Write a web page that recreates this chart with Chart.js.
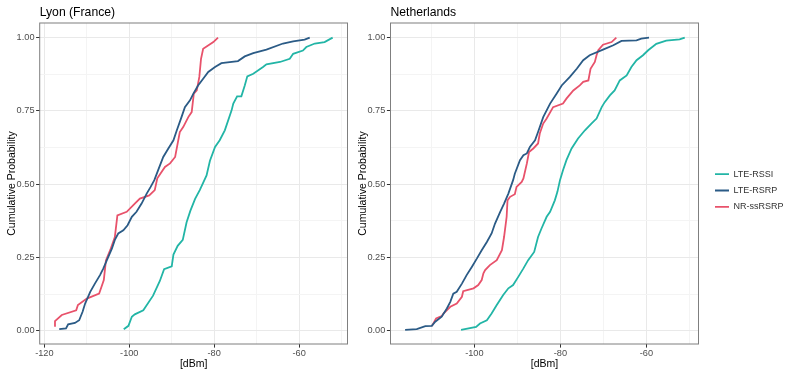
<!DOCTYPE html>
<html>
<head>
<meta charset="utf-8">
<script src="https://cdn.jsdelivr.net/npm/chart.js@4.4.1/dist/chart.umd.min.js"></script>
<style>
  html, body { margin: 0; padding: 0; background: #fff; }
  #wrap { position: relative; width: 787px; height: 376px; }
  .panel { position: absolute; top: 0; height: 376px; }
  #lyonBox { left: 0; width: 350px; }
  #nlBox { left: 350px; width: 437px; }
</style>
</head>
<body>
<div id="wrap">
  <div class="panel" id="lyonBox"><canvas id="lyonChart"></canvas></div>
  <div class="panel" id="nlBox"><canvas id="nlChart"></canvas></div>
</div>
<script>
// series names and colours
const SERIES = ['LTE-RSSI', 'LTE-RSRP', 'NR-ssRSRP'];
const COLORS = ['#22b5a6', '#2b5b86', '#e8526b'];

// Lyon (France) - values in dBm and cumulative probability
const lyonRssiDbm = [-101.3, -100.2, -99.4, -98.7, -96.7, -94.4, -92.8, -91.8, -90.0, -89.6, -88.6, -87.4, -86.5, -85.6, -84.5, -83.4, -81.8, -81.0, -79.8, -78.7, -77.5, -75.9, -75.5, -74.6, -73.6, -72.8, -72.2, -70.8, -68.5, -67.7, -64.5, -62.2, -61.4, -59.1, -58.3, -56.3, -54.0, -52.1];
const lyonRssiProb = [0.005, 0.017, 0.048, 0.056, 0.07, 0.12, 0.17, 0.21, 0.22, 0.26, 0.29, 0.31, 0.37, 0.41, 0.45, 0.48, 0.53, 0.58, 0.627, 0.65, 0.684, 0.752, 0.775, 0.80, 0.80, 0.837, 0.868, 0.877, 0.90, 0.909, 0.917, 0.928, 0.945, 0.956, 0.968, 0.98, 0.985, 1.0];

const lyonRsrpDbm = [-116.5, -114.9, -114.4, -112.8, -111.8, -111.0, -110.4, -109.2, -108.1, -106.9, -106.1, -105.3, -104.1, -103.4, -102.6, -101.4, -100.4, -99.4, -98.3, -97.1, -95.9, -95.0, -94.1, -93.2, -92.0, -90.8, -89.6, -88.8, -87.7, -86.9, -85.7, -84.9, -83.8, -82.6, -81.4, -79.8, -78.3, -74.4, -72.8, -70.8, -67.7, -63.8, -61.4, -58.7, -57.5];
const lyonRsrpProb = [0.006, 0.008, 0.022, 0.027, 0.036, 0.065, 0.093, 0.133, 0.161, 0.19, 0.213, 0.24, 0.28, 0.31, 0.332, 0.343, 0.36, 0.389, 0.406, 0.434, 0.468, 0.49, 0.514, 0.548, 0.593, 0.622, 0.65, 0.684, 0.729, 0.763, 0.786, 0.809, 0.837, 0.86, 0.883, 0.90, 0.913, 0.92, 0.936, 0.947, 0.959, 0.98, 0.987, 0.993, 1.0];

const lyonNrDbm = [-117.7, -117.5, -115.9, -112.5, -112.1, -110.0, -107.1, -106.5, -106.0, -105.5, -104.5, -103.4, -102.8, -100.6, -98.7, -97.5, -95.3, -94.0, -93.4, -91.6, -90.4, -89.2, -88.1, -87.3, -86.1, -85.3, -84.8, -84.1, -83.5, -83.1, -82.6, -80.2, -79.1];
const lyonNrProb = [0.017, 0.033, 0.054, 0.07, 0.088, 0.11, 0.127, 0.152, 0.173, 0.24, 0.275, 0.32, 0.394, 0.406, 0.434, 0.451, 0.462, 0.48, 0.52, 0.559, 0.571, 0.593, 0.678, 0.695, 0.729, 0.746, 0.809, 0.82, 0.866, 0.928, 0.962, 0.985, 1.0];

// Netherlands
const nlRssiDbm = [-103.1, -99.6, -98.7, -97.1, -96.0, -94.8, -93.3, -92.1, -91.0, -89.8, -88.6, -87.5, -86.1, -85.2, -84.4, -83.2, -82.4, -81.3, -80.7, -80.1, -79.4, -78.6, -77.4, -75.9, -74.3, -72.8, -71.6, -70.4, -69.7, -68.5, -67.4, -66.2, -64.6, -63.5, -62.3, -60.8, -59.6, -57.7, -55.4, -52.3, -51.1];
const nlRssiProb = [0.003, 0.013, 0.025, 0.036, 0.059, 0.088, 0.122, 0.145, 0.156, 0.184, 0.213, 0.241, 0.269, 0.32, 0.349, 0.389, 0.406, 0.445, 0.474, 0.514, 0.548, 0.582, 0.622, 0.656, 0.684, 0.707, 0.724, 0.763, 0.78, 0.803, 0.82, 0.854, 0.871, 0.90, 0.923, 0.94, 0.957, 0.979, 0.99, 0.994, 1.0];

const nlRsrpDbm = [-116.1, -113.4, -111.4, -109.9, -109.1, -107.6, -106.4, -105.6, -104.9, -104.1, -102.9, -101.8, -100.6, -99.4, -98.3, -97.1, -96.0, -95.2, -94.0, -93.1, -92.1, -91.0, -90.6, -89.4, -88.6, -87.8, -87.1, -85.9, -85.2, -84.0, -82.4, -80.9, -79.7, -77.8, -76.2, -74.7, -73.2, -70.1, -67.7, -65.8, -62.3, -61.2, -59.4];
const nlRsrpProb = [0.003, 0.006, 0.016, 0.017, 0.031, 0.048, 0.076, 0.099, 0.127, 0.133, 0.161, 0.19, 0.218, 0.247, 0.275, 0.303, 0.332, 0.366, 0.406, 0.434, 0.468, 0.514, 0.536, 0.582, 0.599, 0.605, 0.627, 0.65, 0.678, 0.729, 0.775, 0.809, 0.837, 0.866, 0.894, 0.923, 0.94, 0.959, 0.974, 0.989, 0.991, 0.997, 1.0];

const nlNrDbm = [-109.9, -108.9, -107.6, -107.2, -105.6, -104.1, -102.9, -102.6, -100.2, -99.1, -98.3, -97.9, -97.5, -96.4, -94.8, -93.6, -93.1, -92.5, -92.3, -91.7, -90.6, -90.2, -89.0, -88.6, -87.8, -87.3, -86.3, -85.2, -84.8, -84.0, -83.2, -81.7, -79.4, -78.6, -77.0, -75.5, -74.7, -73.5, -73.0, -72.0, -71.6, -71.2, -70.1, -68.1, -67.0];
const nlNrProb = [0.016, 0.042, 0.05, 0.059, 0.082, 0.093, 0.116, 0.135, 0.145, 0.156, 0.173, 0.196, 0.207, 0.224, 0.241, 0.275, 0.32, 0.389, 0.445, 0.457, 0.466, 0.491, 0.508, 0.52, 0.571, 0.61, 0.622, 0.639, 0.673, 0.707, 0.724, 0.763, 0.775, 0.792, 0.82, 0.837, 0.849, 0.854, 0.894, 0.917, 0.94, 0.957, 0.976, 0.985, 1.0];

// axis labels
const X_TITLE = '[dBm]';
const Y_TITLE = 'Cumulative Probability';

const FONT = "'Liberation Sans', Arial, Helvetica, sans-serif";
Chart.defaults.font.family = FONT;

function toPoints(dbm, prob) {
    return dbm.map((v, i) => ({ x: v, y: prob[i] }));
}

// outline round the panel, like theme_bw
const panelBorder = {
    id: 'panelBorder',
    afterDatasetsDraw(chart) {
        const { ctx, chartArea: a } = chart;
        ctx.save();
        ctx.strokeStyle = '#7f7f7f';
        ctx.lineWidth = 1;
        ctx.strokeRect(a.left, a.top, a.right - a.left, a.bottom - a.top);
        ctx.restore();
    }
};

const isMajorX = v => Math.abs(v % 20) < 1e-9;
const isMajorY = v => Math.abs(v * 4 - Math.round(v * 4)) < 1e-9;

function gridOpts(isMajor) {
    return {
        color: c => (c.tick && isMajor(c.tick.value)) ? '#e9e9e9' : '#f4f4f4',
        lineWidth: 1,
        tickColor: c => (c.tick && isMajor(c.tick.value)) ? '#333333' : 'rgba(0,0,0,0)',
        tickLength: 3.6,
        tickWidth: 1
    };
}

function makePanel(canvasId, title, lists, xMin, xMax, opts) {
    const datasets = lists.map((l, i) => ({
        label: SERIES[i],
        data: toPoints(l[0], l[1]),
        borderColor: COLORS[i],
        backgroundColor: COLORS[i],
        borderWidth: 1.8,
        pointRadius: 0,
        showLine: true,
        tension: 0,
        fill: false
    }));

    const scales = {
        x: {
            type: 'linear',
            min: xMin,
            max: xMax,
            afterFit(s) { s.height = 32; },
            border: { display: false },
            grid: gridOpts(isMajorX),
            ticks: {
                stepSize: 10,
                includeBounds: false,
                autoSkip: false,
                maxRotation: 0,
                maxTicksLimit: 30,
                padding: 0,
                color: '#4d4d4d',
                font: { size: 9.2 },
                callback: v => isMajorX(v) ? String(v) : ''
            },
            title: {
                display: true,
                text: X_TITLE,
                color: '#000',
                font: { size: 10.5 },
                padding: { top: 0, bottom: 5.7 }
            }
        },
        y: {
            type: 'linear',
            min: -0.045,
            max: 1.05,
            afterFit(s) { s.width = opts.yWidth; },
            border: { display: false },
            grid: gridOpts(isMajorY),
            ticks: {
                stepSize: 0.125,
                includeBounds: false,
                autoSkip: false,
                maxTicksLimit: 30,
                padding: 1.6,
                color: '#4d4d4d',
                font: { size: 9.2 },
                callback: v => isMajorY(v) ? v.toFixed(2) : ''
            },
            title: {
                display: true,
                text: Y_TITLE,
                color: '#000',
                font: { size: 10.5 },
                padding: { top: opts.yTitlePad, bottom: 0 }
            }
        }
    };

    if (opts.legend) {
        // empty strip between the panel and the legend keys
        scales.gap = {
            type: 'linear',
            position: 'right',
            display: true,
            grid: { display: false, drawTicks: false },
            ticks: { display: false },
            border: { display: false },
            afterFit(s) { s.width = 9.2; }
        };
    }

    return new Chart(document.getElementById(canvasId), {
        type: 'scatter',
        data: { datasets },
        options: {
            responsive: true,
            maintainAspectRatio: false,
            animation: false,
            events: [],
            layout: { padding: { top: 5, right: opts.padRight, left: 0, bottom: 0 } },
            scales,
            plugins: {
                title: {
                    display: true,
                    text: title,
                    align: 'start',
                    fullSize: false,
                    color: '#000',
                    font: { size: 12.2, weight: 'normal' },
                    padding: { top: 0, bottom: 3.36 }
                },
                legend: {
                    display: !!opts.legend,
                    position: 'right',
                    align: 'center',
                    maxWidth: 79.3,
                    labels: {
                        usePointStyle: true,
                        pointStyle: 'line',
                        pointStyleWidth: 14,
                        padding: 7.3,
                        color: '#333',
                        font: { size: 9 }
                    }
                },
                tooltip: { enabled: false }
            }
        },
        plugins: [panelBorder]
    });
}

makePanel('lyonChart', 'Lyon (France)', [
    [lyonRssiDbm, lyonRssiProb],
    [lyonRsrpDbm, lyonRsrpProb],
    [lyonNrDbm, lyonNrProb]
], -121.1, -48.6, { yWidth: 39.7, yTitlePad: 5.75, padRight: 2.5, legend: false });

makePanel('nlChart', 'Netherlands', [
    [nlRssiDbm, nlRssiProb],
    [nlRsrpDbm, nlRsrpProb],
    [nlNrDbm, nlNrProb]
], -119.5, -47.9, { yWidth: 40.5, yTitlePad: 6.55, padRight: 0, legend: true });
</script>
</body>
</html>
